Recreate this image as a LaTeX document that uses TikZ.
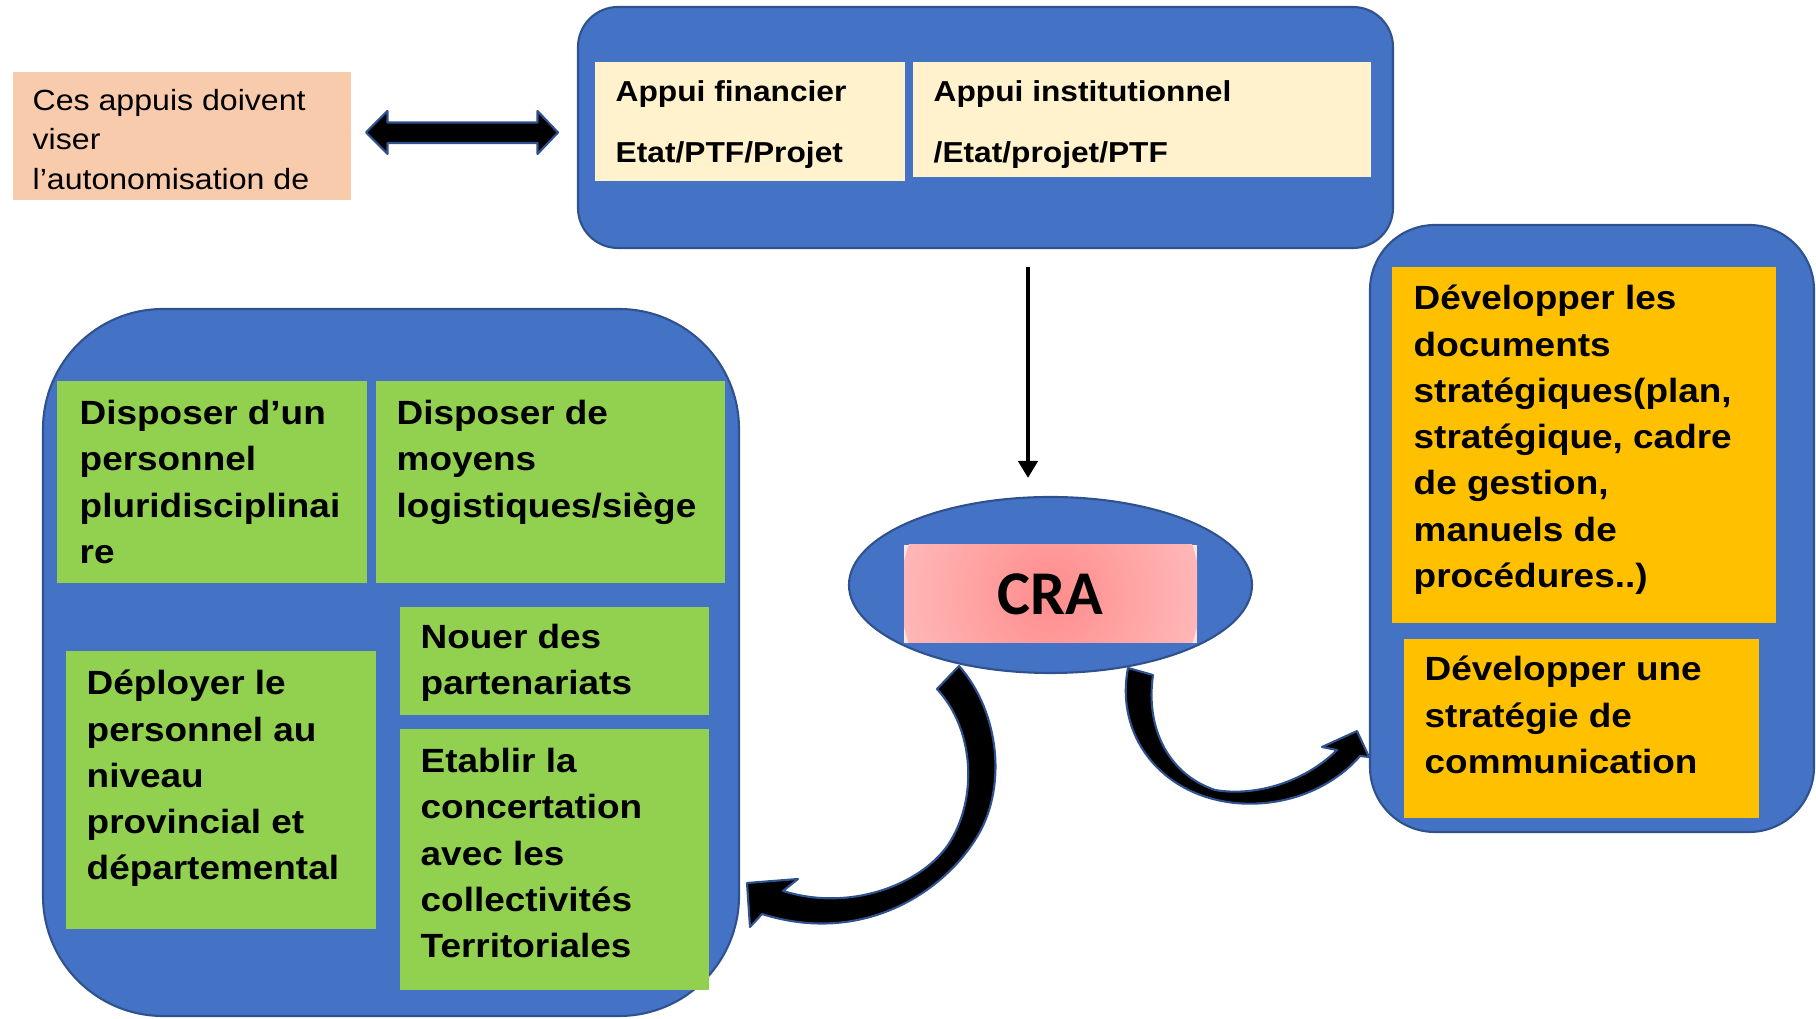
\documentclass[tikz,border=0pt]{standalone}
\usepackage{fontspec}
\setmainfont{Liberation Sans}[FakeStretch=1.1]
\newfontfamily\crafont{Carlito}
\usetikzlibrary{shapes.geometric, arrows.meta}
\definecolor{bluefill}{HTML}{4472C4}
\definecolor{blueline}{HTML}{2F528F}
\definecolor{greenfill}{HTML}{92D050}
\definecolor{orangefill}{HTML}{FFC000}
\definecolor{creamfill}{HTML}{FFF2CC}
\definecolor{peachfill}{HTML}{F8CBAD}
\definecolor{crain}{HTML}{FF8C8C}
\definecolor{craout}{HTML}{FFE2E2}
\pgfdeclareradialshading{crashade}{\pgfpointorigin}{color(0bp)=(crain); color(50bp)=(craout)}
\begin{document}
\begin{tikzpicture}[x=0.1mm, y=-0.1mm,
    bluebox/.style={draw=blueline, fill=bluefill, line width=0.6pt, inner sep=0},
    gbox/.style={fill=greenfill, inner sep=0},
    obox/.style={fill=orangefill, inner sep=0},
    cbox/.style={fill=creamfill, inner sep=0},
    txt/.style={anchor=north west, inner sep=0, align=left,
      font=\bfseries\fontsize{9.55}{13.17}\selectfont},
    ctxt/.style={anchor=north west, inner sep=0, align=left,
      font=\bfseries\fontsize{8.2}{17.35}\selectfont},
    blockarrow/.style={fill=black, draw=blueline, line width=0.6pt, line join=round}]
  \useasboundingbox (0,0) rectangle (1816,1019);
  % Intro box
  \node[fill=peachfill, inner sep=0, minimum width=33.8mm, minimum height=12.8mm] (intro) at (182,136) {};
  \node[anchor=north west, inner sep=0, align=left, font=\fontsize{8.3}{11.2}\selectfont] (introt) at (32,88.5)
    {Ces appuis doivent\\viser\\l’autonomisation de};
  % Double arrow
  \draw[blockarrow] (366,132.5) -- (387.5,111) -- (387.5,122.5) -- (537.5,122.5) -- (537.5,111)
    -- (558,132.5) -- (537.5,154) -- (537.5,143) -- (387.5,143) -- (387.5,154) -- cycle;
  % Support box
  \node[bluebox, rounded corners=4mm, minimum width=81.5mm, minimum height=24.1mm] (appui) at (985.5,127.5) {};
  \node[cbox, minimum width=31mm, minimum height=11.9mm] (fin) at (750,121.5) {};
  \node[cbox, minimum width=45.85mm, minimum height=11.5mm] (inst) at (1141.75,119.5) {};
  \node[ctxt] (fint) at (615,79.5) {Appui financier\\Etat/PTF/Projet};
  \node[ctxt] (instt) at (933,79.5) {Appui institutionnel\\/Etat/projet/PTF};
  % Arrow down
  \coordinate (dtop) at (1028,267);
  \coordinate (dbot) at (1028,478);
  \draw[line width=1.4pt, -{Triangle[length=1.7mm, width=1.9mm]}] (dtop) -- (dbot);
  % CRA
  \node[ellipse, draw=blueline, fill=bluefill, line width=0.6pt, minimum width=40.3mm, minimum height=17.6mm] (craell) at (1050.5,585) {};
  \node[inner sep=0, fill=craout, minimum width=29.3mm, minimum height=9.8mm,
    path picture={\shade[shading=crashade] (path picture bounding box.center) circle[radius=15mm];},
    font=\crafont\bfseries\fontsize{17.7}{20}\selectfont] (cra) at (1050.5,594) {CRA};
  % Left box
  \node[bluebox, rounded corners=12mm, minimum width=69.6mm, minimum height=70.7mm] (left) at (391,662.5) {};
  \node[gbox, minimum width=31mm, minimum height=20.2mm] (g1) at (212,482) {};
  \node[gbox, minimum width=34.9mm, minimum height=20.2mm] (g2) at (550.5,482) {};
  \node[gbox, minimum width=31mm, minimum height=27.8mm] (g3) at (221,790) {};
  \node[gbox, minimum width=30.9mm, minimum height=10.8mm] (g4) at (554.5,661) {};
  \node[gbox, minimum width=30.9mm, minimum height=26.1mm] (g5) at (554.5,859.5) {};
  \node[txt] (g1t) at (79,399.5) {Disposer d’un\\personnel\\pluridisciplinai\\re};
  \node[txt] (g2t) at (396,399.5) {Disposer de\\moyens\\logistiques/siège};
  \node[txt] (g3t) at (86,669.5) {Déployer le\\personnel au\\niveau\\provincial et\\départemental};
  \node[txt] (g4t) at (420,623.5) {Nouer des\\partenariats};
  \node[txt] (g5t) at (420,747.5) {Etablir la\\concertation\\avec les\\collectivités\\Territoriales};
  % Right box
  \node[bluebox, rounded corners=6.5mm, minimum width=44.4mm, minimum height=60.7mm] (right) at (1592,528.5) {};
  \node[obox, minimum width=38.4mm, minimum height=35.6mm] (o1) at (1584,445) {};
  \node[obox, minimum width=35.5mm, minimum height=17.9mm] (o2) at (1581.5,728.5) {};
  \node[txt] (o1t) at (1413,284.5) {Développer les\\documents\\stratégiques(plan,\\stratégique, cadre\\de gestion,\\manuels de\\procédures..)};
  \node[txt] (o2t) at (1424,655.5) {Développer une\\stratégie de\\communication};
  % Curved arrows
  \draw[blockarrow] (959,666) .. controls (1000,712) and (1008,790) .. (975,840)
    .. controls (940,895) and (860,945) .. (762,914) -- (750,927) -- (747,883) -- (798,879) -- (783,891)
    .. controls (850,912) and (920,885) .. (948,845) .. controls (978,800) and (975,730) .. (937,689) -- cycle;
  \draw[blockarrow] (1128,668) .. controls (1115,735) and (1160,795) .. (1235,803)
    .. controls (1290,808) and (1335,785) .. (1360,756) -- (1369,757) -- (1357,731) -- (1322,747) -- (1337,750)
    .. controls (1305,782) and (1255,797) .. (1215,790) .. controls (1170,775) and (1145,730) .. (1153,675) -- cycle;
\end{tikzpicture}
\end{document}
